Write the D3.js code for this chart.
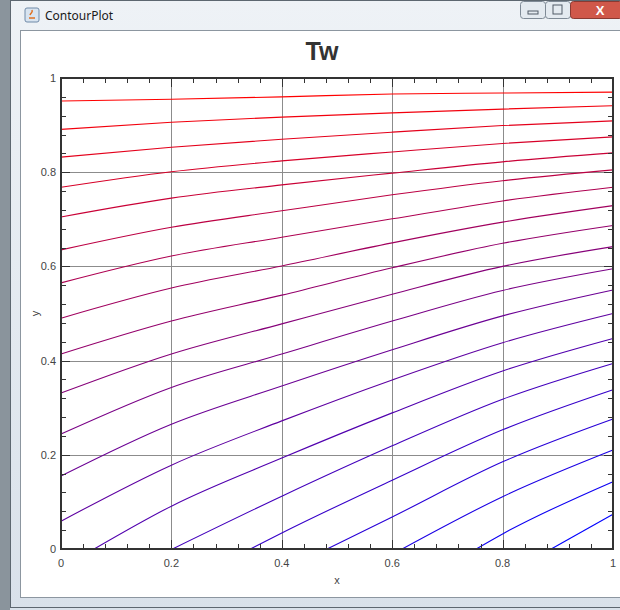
<!DOCTYPE html>
<html>
<head>
<meta charset="utf-8">
<script src="https://cdn.jsdelivr.net/npm/d3@7"></script>
<style>
  body { margin: 0; background: #ffffff; }
  svg { display: block; font-family: "Liberation Sans", Arial, sans-serif; }
</style>
</head>
<body>
<script>
// tick values
var xTicks = [0, 0.2, 0.4, 0.6, 0.8, 1];
var yTicks = [0, 0.2, 0.4, 0.6, 0.8, 1];
var tickLabels = ["0", "0.2", "0.4", "0.6", "0.8", "1"];

// contour lines, top (red) to bottom right (blue)
var line0 = [[0, 0.951], [0.2, 0.955], [0.4, 0.960], [0.6, 0.966], [0.8, 0.968], [1, 0.970]];
var line1 = [[0, 0.891], [0.2, 0.906], [0.4, 0.917], [0.6, 0.926], [0.8, 0.934], [1, 0.941]];
var line2 = [[0, 0.832], [0.2, 0.853], [0.4, 0.870], [0.6, 0.885], [0.8, 0.899], [1, 0.909]];
var line3 = [[0, 0.768], [0.2, 0.801], [0.4, 0.824], [0.6, 0.843], [0.8, 0.861], [1, 0.875]];
var line4 = [[0, 0.705], [0.2, 0.745], [0.4, 0.773], [0.6, 0.798], [0.8, 0.822], [1, 0.841]];
var line5 = [[0, 0.635], [0.2, 0.683], [0.4, 0.718], [0.6, 0.752], [0.8, 0.782], [1, 0.805]];
var line6 = [[0, 0.565], [0.2, 0.622], [0.4, 0.662], [0.6, 0.701], [0.8, 0.739], [1, 0.768]];
var line7 = [[0, 0.490], [0.2, 0.554], [0.4, 0.601], [0.6, 0.650], [0.8, 0.694], [1, 0.729]];
var line8 = [[0, 0.414], [0.2, 0.484], [0.4, 0.539], [0.6, 0.597], [0.8, 0.649], [1, 0.687]];
var line9 = [[0, 0.331], [0.2, 0.414], [0.4, 0.478], [0.6, 0.541], [0.8, 0.600], [1, 0.642]];
var line10 = [[0, 0.244], [0.2, 0.343], [0.4, 0.414], [0.6, 0.484], [0.8, 0.549], [1, 0.595]];
var line11 = [[0, 0.155], [0.2, 0.265], [0.4, 0.346], [0.6, 0.423], [0.8, 0.495], [1, 0.550]];
var line12 = [[0, 0.059], [0.2, 0.178], [0.4, 0.272], [0.6, 0.359], [0.8, 0.438], [1, 0.500]];
var line13 = [[0.060, 0], [0.2, 0.091], [0.4, 0.193], [0.6, 0.289], [0.8, 0.378], [1, 0.447]];
var line14 = [[0.202, 0], [0.4, 0.112], [0.6, 0.219], [0.8, 0.318], [1, 0.394]];
var line15 = [[0.343, 0], [0.4, 0.034], [0.6, 0.146], [0.8, 0.253], [1, 0.338]];
var line16 = [[0.482, 0], [0.6, 0.068], [0.8, 0.185], [1, 0.276]];
var line17 = [[0.618, 0], [0.8, 0.111], [1, 0.210]];
var line18 = [[0.752, 0], [0.8, 0.032], [1, 0.143]];
var line19 = [[0.888, 0], [1, 0.074]];

var contours = [line0, line1, line2, line3, line4, line5, line6, line7, line8, line9,
	line10, line11, line12, line13, line14, line15, line16, line17, line18, line19];

var W = 620, H = 610;
var svg = d3.select("body").append("svg").attr("width", W).attr("height", H);

// window frame (title bar)
var defs = svg.append("defs");
var grad = defs.append("linearGradient").attr("id", "bar").attr("x1", 0).attr("y1", 0).attr("x2", 0).attr("y2", 1);
grad.append("stop").attr("offset", "0%").attr("stop-color", "#eef2f6");
grad.append("stop").attr("offset", "100%").attr("stop-color", "#d9e1ea");
svg.append("rect").attr("width", W).attr("height", H).attr("fill", "url(#bar)");
svg.append("rect").attr("x", 0).attr("y", 0).attr("width", 10).attr("height", H).attr("fill", "#8a949c");
svg.append("rect").attr("x", 10.5).attr("y", 0.5).attr("width", W).attr("height", H - 3)
	.attr("fill", "none").attr("stroke", "#5d6770");
svg.append("rect").attr("x", 20.5).attr("y", 30.5).attr("width", W - 20).attr("height", 567)
	.attr("fill", "#ffffff").attr("stroke", "#8c96a0");

// icon + caption
svg.append("rect").attr("x", 25).attr("y", 8).attr("width", 14).attr("height", 14).attr("rx", 2)
	.attr("fill", "#d8e4f0").attr("stroke", "#6f8aa8");
svg.append("path").attr("d", "M29,18 L35,18 M30,15 C31,12 33,13 32,10").attr("stroke", "#e07020").attr("fill", "none").attr("stroke-width", 1.5);
svg.append("text").attr("x", 45).attr("y", 20).attr("font-size", 12)
	.attr("font-family", "'Noto Sans', sans-serif").attr("fill", "#1a1a1a").text("ContourPlot");

// window buttons
svg.append("rect").attr("x", 520.5).attr("y", 1.5).attr("width", 25).attr("height", 17).attr("rx", 3)
	.attr("fill", "#e4eaf0").attr("stroke", "#7f8a96");
svg.append("rect").attr("x", 528).attr("y", 11).attr("width", 10).attr("height", 3).attr("fill", "none").attr("stroke", "#505a66");
svg.append("rect").attr("x", 545.5).attr("y", 1.5).attr("width", 25).attr("height", 17).attr("rx", 3)
	.attr("fill", "#e4eaf0").attr("stroke", "#7f8a96");
svg.append("rect").attr("x", 553).attr("y", 5).attr("width", 9).attr("height", 9).attr("fill", "none").attr("stroke", "#505a66");
svg.append("rect").attr("x", 570.5).attr("y", 1.5).attr("width", 52).attr("height", 17).attr("rx", 3)
	.attr("fill", "#d0584a").attr("stroke", "#8a3a32");
svg.append("text").attr("x", 600).attr("y", 15).attr("text-anchor", "middle").attr("font-size", 13)
	.attr("font-weight", "bold").attr("fill", "#ffffff").text("X");

// plot area
var x0 = 61, x1 = 613, y0 = 549, y1 = 78;
var xScale = d3.scaleLinear().domain([0, 1]).range([x0, x1]);
var yScale = d3.scaleLinear().domain([0, 1]).range([y0, y1]);

// title
svg.append("text").attr("x", 322).attr("y", 60).attr("text-anchor", "middle")
	.attr("font-size", 25).attr("font-weight", "bold").attr("fill", "#333333").text("Tw");

// grid
var plot = svg.append("g");
plot.selectAll(".gx").data(xTicks.slice(1, -1)).enter().append("line")
	.attr("x1", function(d) { return Math.round(xScale(d)) + 0.5; })
	.attr("x2", function(d) { return Math.round(xScale(d)) + 0.5; })
	.attr("y1", y1).attr("y2", y0).attr("stroke", "#8c8c8c");
plot.selectAll(".gy").data(yTicks.slice(1, -1)).enter().append("line")
	.attr("y1", function(d) { return Math.round(yScale(d)) + 0.5; })
	.attr("y2", function(d) { return Math.round(yScale(d)) + 0.5; })
	.attr("x1", x0).attr("x2", x1).attr("stroke", "#8c8c8c");

// contour lines
var color = d3.interpolateRgb("#0000ff", "#ff0000");
var line = d3.line()
	.curve(d3.curveMonotoneX)
	.x(function(d) { return xScale(d[0]); })
	.y(function(d) { return yScale(d[1]); });
plot.selectAll(".contour").data(contours).enter().append("path")
	.attr("d", line)
	.attr("fill", "none")
	.attr("stroke-width", 1.1)
	.attr("stroke", function(d, i) { return color(1 - i / (contours.length - 1)); });

// axes with inward ticks
var axisG = svg.append("g");
var minor = d3.range(0, 1.0001, 0.04);
function drawTicks(vals, len) {
	vals.forEach(function(v) {
		var px = Math.round(xScale(v)) + 0.5, py = Math.round(yScale(v)) + 0.5;
		axisG.append("line").attr("x1", px).attr("x2", px).attr("y1", y0).attr("y2", y0 - len).attr("stroke", "#333");
		axisG.append("line").attr("x1", px).attr("x2", px).attr("y1", y1).attr("y2", y1 + len).attr("stroke", "#333");
		axisG.append("line").attr("y1", py).attr("y2", py).attr("x1", x0).attr("x2", x0 + len).attr("stroke", "#333");
		axisG.append("line").attr("y1", py).attr("y2", py).attr("x1", x1).attr("x2", x1 - len).attr("stroke", "#333");
	});
}
drawTicks(minor, 5);
drawTicks(xTicks, 9);

axisG.append("rect").attr("x", x0).attr("y", y1).attr("width", x1 - x0).attr("height", y0 - y1)
	.attr("fill", "none").attr("stroke", "#333333").attr("stroke-width", 2);

// tick labels
svg.selectAll(".xl").data(xTicks).enter().append("text")
	.attr("x", function(d) { return xScale(d); }).attr("y", y0 + 18)
	.attr("text-anchor", "middle").attr("font-size", 11).attr("fill", "#444")
	.text(function(d, i) { return tickLabels[i]; });
svg.selectAll(".yl").data(yTicks).enter().append("text")
	.attr("x", x0 - 5).attr("y", function(d) { return yScale(d) + 4; })
	.attr("text-anchor", "end").attr("font-size", 11).attr("fill", "#444")
	.text(function(d, i) { return tickLabels[i]; });

// axis titles
svg.append("text").attr("x", (x0 + x1) / 2).attr("y", 584).attr("text-anchor", "middle")
	.attr("font-size", 11).attr("fill", "#444").text("x");
svg.append("text").attr("transform", "translate(39," + ((y0 + y1) / 2) + ") rotate(-90)")
	.attr("text-anchor", "middle").attr("font-size", 11).attr("fill", "#444").text("y");
</script>
</body>
</html>
